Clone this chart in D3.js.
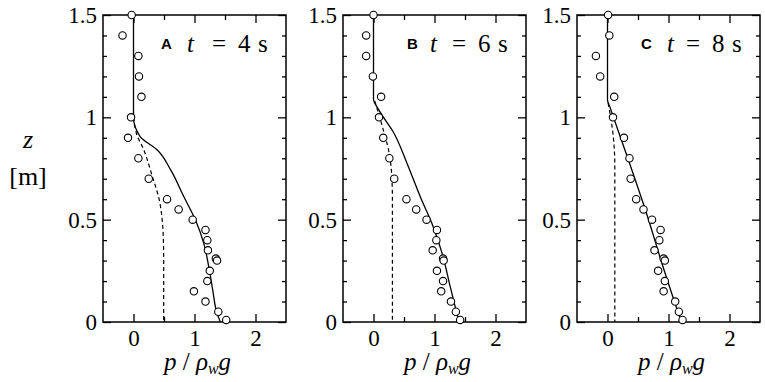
<!DOCTYPE html>
<html>
<head>
<meta charset="utf-8">
<script src="https://cdn.jsdelivr.net/npm/d3@7"></script>
<style>
  body { margin: 0; background: #fff; }
  svg { display: block; }
</style>
</head>
<body>
<svg id="chart" width="765" height="382" font-family="Liberation Serif"></svg>
<script>
// depths of measured points (m)
const zMeas = [1.5, 1.4, 1.3, 1.2, 1.1, 1.0, 0.9, 0.8, 0.7, 0.6, 0.55, 0.5, 0.45, 0.4, 0.35, 0.31, 0.30, 0.25, 0.2, 0.15, 0.1, 0.05, 0.01];

// measured p/rho_w g for each time
const measA = [-0.03, -0.18, 0.08, 0.09, 0.13, -0.04, -0.09, 0.08, 0.25, 0.55, 0.74, 0.97, 1.18, 1.21, 1.22, 1.35, 1.37, 1.25, 1.21, 0.99, 1.18, 1.39, 1.52];
const measB = [0, -0.12, -0.12, -0.01, 0.125, 0.09, 0.16, 0.26, 0.34, 0.54, 0.70, 0.87, 1.04, 1.03, 0.97, 1.14, 1.15, 1.04, 1.14, 1.11, 1.27, 1.35, 1.42];
const measC = [0.01, 0.03, -0.19, -0.12, 0.11, 0.09, 0.27, 0.36, 0.38, 0.47, 0.59, 0.73, 0.87, 0.85, 0.77, 0.92, 0.94, 0.83, 0.94, 0.92, 1.11, 1.17, 1.23];

// computed curves: [p, z]
const solidA = [[0, 1.5], [0, 1.0], [0.109, 0.906], [0.391, 0.84], [0.609, 0.743], [0.826, 0.612], [1.016, 0.498], [1.152, 0.384], [1.234, 0.27], [1.299, 0.156], [1.37, 0.042], [1.424, 0]];
const dashA = [[0, 1.0], [0.05, 0.92], [0.17, 0.84], [0.31, 0.71], [0.42, 0.6], [0.47, 0.5], [0.49, 0.4], [0.495, 0.3], [0.495, 0]];
const solidB = [[0, 1.5], [0, 1.09], [0.09, 1.035], [0.34, 0.92], [0.55, 0.775], [0.77, 0.61], [0.96, 0.48], [1.125, 0.335], [1.26, 0.17], [1.40, 0]];
const dashB = [[0.02, 1.08], [0.15, 0.95], [0.26, 0.82], [0.30, 0.71], [0.31, 0.6], [0.31, 0]];
const solidC = [[0, 1.5], [0, 1.085], [0.04, 1.05], [0.31, 0.82], [0.64, 0.53], [0.91, 0.27], [1.21, 0]];
const dashC = [[0.01, 1.07], [0.09, 0.92], [0.12, 0.76], [0.12, 0]];

const panelLetters = ["A", "B", "C"];
const panelTimes = ["4", "6", "8"];
const xMajor = [0, 1, 2];
const xMinor = [0.5, 1.5];
const yMajor = [0, 0.5, 1, 1.5];
const yMinor = [0.1, 0.2, 0.3, 0.4, 0.6, 0.7, 0.8, 0.9, 1.1, 1.2, 1.3, 1.4];

const panels = [
  {meas: measA, solid: solidA, dash: dashA, left: 103, tagX: 58, tX: 84},
  {meas: measB, solid: solidB, dash: dashB, left: 343, tagX: 64, tX: 87},
  {meas: measC, solid: solidC, dash: dashC, left: 577, tagX: 64, tX: 90}
];

const svg = d3.select("#chart");
const plotTop = 15, plotBottom = 322, pw = 183;
const SERIF = "Liberation Serif";

const y = d3.scaleLinear().domain([0, 1.5]).range([plotBottom, plotTop]);

const line = d3.line()
  .x(d => d.x)
  .y(d => d.y)
  .curve(d3.curveMonotoneY);

panels.forEach((p, i) => {
  const x = d3.scaleLinear().domain([-0.5, 2.5]).range([p.left, p.left + pw]);
  const g = svg.append("g");

  function axis(gen, vals, size, transform, labels) {
    const a = g.append("g")
      .attr("transform", transform)
      .call(gen.tickValues(vals).tickSize(size).tickPadding(labels ? 6 : 0)
        .tickFormat(labels ? (d => d3.format("")(d)) : () => ""))
      .attr("font-family", SERIF)
      .attr("font-size", 23);
    a.select(".domain").remove();
    a.selectAll("line").attr("stroke", "#000").attr("stroke-width", 1.3);
    a.selectAll("text").attr("fill", "#000");
    return a;
  }

  // ticks pointing inward
  axis(d3.axisBottom(x), xMajor, -8, `translate(0,${plotBottom})`, true)
    .selectAll("text").attr("dy", "0.78em");
  axis(d3.axisBottom(x), xMinor, -5, `translate(0,${plotBottom})`, false);
  axis(d3.axisTop(x), xMajor, -8, `translate(0,${plotTop})`, false);
  axis(d3.axisTop(x), xMinor, -5, `translate(0,${plotTop})`, false);
  axis(d3.axisLeft(y), yMajor, -8, `translate(${p.left},0)`, true)
    .selectAll("text").attr("dy", "0.32em");
  axis(d3.axisLeft(y), yMinor, -4, `translate(${p.left},0)`, false);
  axis(d3.axisRight(y), yMajor, -8, `translate(${p.left + pw},0)`, false);
  axis(d3.axisRight(y), yMinor, -4, `translate(${p.left + pw},0)`, false);

  // frame
  g.append("rect")
    .attr("x", p.left).attr("y", plotTop)
    .attr("width", pw).attr("height", plotBottom - plotTop)
    .attr("fill", "none").attr("stroke", "#000").attr("stroke-width", 1.5);

  // dashed and solid curves
  g.append("path")
    .attr("d", line(p.dash.map(d => ({x: x(d[0]), y: y(d[1])}))))
    .attr("fill", "none").attr("stroke", "#000").attr("stroke-width", 1.2)
    .attr("stroke-dasharray", "4,3");
  g.append("path")
    .attr("d", line(p.solid.map(d => ({x: x(d[0]), y: y(d[1])}))))
    .attr("fill", "none").attr("stroke", "#000").attr("stroke-width", 1.3);

  // measured points
  g.selectAll("circle")
    .data(p.meas.map((v, k) => ({p: v, z: zMeas[k]})))
    .enter().append("circle")
      .attr("cx", d => x(d.p))
      .attr("cy", d => y(d.z))
      .attr("r", 3.7)
      .attr("fill", "#fff")
      .attr("stroke", "#000")
      .attr("stroke-width", 1.1);

  // panel label
  g.append("text")
    .attr("x", p.left + p.tagX).attr("y", 49)
    .attr("font-family", "Liberation Sans")
    .attr("font-weight", "bold")
    .attr("font-size", 15)
    .text(panelLetters[i]);
  const t = g.append("text")
    .attr("y", 52)
    .attr("font-family", SERIF)
    .attr("font-size", 25);
  t.append("tspan").attr("x", p.left + p.tX).attr("font-style", "italic").text("t");
  t.append("tspan").attr("x", p.left + 109).text("=");
  t.append("tspan").attr("x", p.left + 135).text(panelTimes[i]);
  t.append("tspan").attr("x", p.left + 155).text("s");

  // x-axis title
  const xt = svg.append("text")
    .attr("x", p.left + pw / 2 + 3).attr("y", 370)
    .attr("text-anchor", "middle")
    .attr("font-family", SERIF)
    .attr("font-size", 25);
  xt.append("tspan").attr("font-style", "italic").text("p");
  xt.append("tspan").text(" / ");
  xt.append("tspan").attr("font-style", "italic").text("ρ");
  xt.append("tspan").attr("font-style", "italic").attr("font-size", 16).attr("dy", 4).text("w");
  xt.append("tspan").attr("font-style", "italic").attr("dy", -4).text("g");
});

// y-axis title
svg.append("text")
  .attr("x", 28).attr("y", 148)
  .attr("text-anchor", "middle")
  .attr("font-family", SERIF)
  .attr("font-style", "italic")
  .attr("font-size", 26)
  .text("z");
svg.append("text")
  .attr("x", 28).attr("y", 185)
  .attr("text-anchor", "middle")
  .attr("font-family", SERIF)
  .attr("font-size", 26)
  .text("[m]");
</script>
</body>
</html>
